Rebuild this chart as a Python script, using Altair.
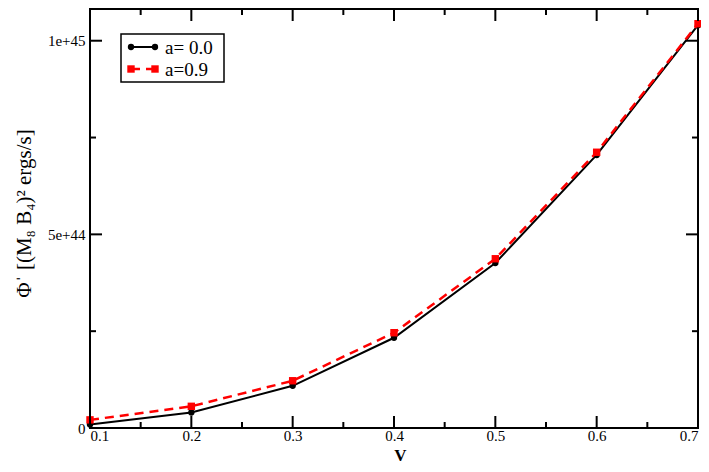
import altair as alt
import pandas as pd

# ---- data ----
V = [0.1, 0.2, 0.3, 0.4, 0.5, 0.6, 0.7]
phi_a00 = [0.009e45, 0.040e45, 0.109e45, 0.233e45, 0.426e45, 0.705e45, 1.040e45]
phi_a09 = [0.021e45, 0.056e45, 0.122e45, 0.246e45, 0.437e45, 0.712e45, 1.044e45]
series_names = ["a= 0.0", "a=0.9"]
series_colors = ["#000000", "#ff0000"]

x_major = [0.1, 0.2, 0.3, 0.4, 0.5, 0.6, 0.7]
x_minor = [0.15, 0.25, 0.35, 0.45, 0.55, 0.65]
y_major = [0, 5e44, 1e45]
y_major_labels = ["0", "5e+44", "1e+45"]
y_minor = [2.5e44, 7.5e44]

W, H = 608, 419
FONT = "'Liberation Serif', 'DejaVu Serif', serif"
MAJ, MIN = 12, 6

xs = alt.Scale(domain=[0.1, 0.7], nice=False, zero=False)
ys = alt.Scale(domain=[0, 1.0819e45], nice=False, zero=False)

label_expr = " : ".join(
    f"datum.value == {v!r} ? '{l}'" for v, l in zip(y_major, y_major_labels)
) + " : ''"

x_axis = alt.Axis(values=x_major, format=".1f", ticks=False, domain=False, grid=False,
                  labelFont=FONT, labelFontSize=15, labelColor="black", labelPadding=0,
                  title="V", titleFont=FONT, titleFontSize=17, titleFontWeight="bold",
                  titleColor="black", titleX=W / 2 + 6, titleY=32, titleAlign="center",
                  titleBaseline="alphabetic")
y_axis = alt.Axis(values=y_major, labelExpr=label_expr, ticks=False, domain=False, grid=False,
                  labelFont=FONT, labelFontSize=15, labelColor="black", labelPadding=5,
                  title="Φˈ [(M₈ B₄)² ergs/s]", titleFont=FONT, titleFontSize=21,
                  titleFontWeight="normal", titleColor="black",
                  titleX=-66, titleY=204, titleAngle=270, titleAlign="center",
                  titleBaseline="middle")

df0 = pd.DataFrame({"V": V, "phi": phi_a00})
df9 = pd.DataFrame({"V": V, "phi": phi_a09})

base0 = alt.Chart(df0)
line0 = base0.mark_line(color=series_colors[0], strokeWidth=2).encode(
    x=alt.X("V:Q", scale=xs, axis=x_axis), y=alt.Y("phi:Q", scale=ys, axis=y_axis))
pts0 = base0.mark_point(shape="circle", filled=True, color=series_colors[0], size=40, opacity=1).encode(
    x=alt.X("V:Q", scale=xs), y=alt.Y("phi:Q", scale=ys))

base9 = alt.Chart(df9)
line9 = base9.mark_line(color=series_colors[1], strokeWidth=2.5, strokeDash=[9, 6]).encode(
    x=alt.X("V:Q", scale=xs), y=alt.Y("phi:Q", scale=ys))
pts9 = base9.mark_point(shape="square", filled=True, color=series_colors[1], size=55, opacity=1).encode(
    x=alt.X("V:Q", scale=xs), y=alt.Y("phi:Q", scale=ys))

# ---- inward ticks on all four sides ----
def xticks(vals, length):
    d = pd.DataFrame({"t": vals})
    bottom = alt.Chart(d).mark_rule(color="black", strokeWidth=2).encode(
        x=alt.X("t:Q", scale=xs), y=alt.value(H), y2=alt.value(H - length))
    top = alt.Chart(d).mark_rule(color="black", strokeWidth=2).encode(
        x=alt.X("t:Q", scale=xs), y=alt.value(0), y2=alt.value(length))
    return [bottom, top]

def yticks(vals, length):
    d = pd.DataFrame({"t": vals})
    left = alt.Chart(d).mark_rule(color="black", strokeWidth=2).encode(
        y=alt.Y("t:Q", scale=ys), x=alt.value(0), x2=alt.value(length))
    right = alt.Chart(d).mark_rule(color="black", strokeWidth=2).encode(
        y=alt.Y("t:Q", scale=ys), x=alt.value(W), x2=alt.value(W - length))
    return [left, right]

ticks = xticks(x_major, MAJ) + xticks(x_minor, MIN) + yticks(y_major, MAJ) + yticks(y_minor, MIN)

# ---- legend box (drawn manually, grace style) ----
leg = pd.DataFrame({"name": series_names, "color": series_colors})
LX0, LX1, LY0, LY1 = 31, 134, 25, 73
box = alt.Chart(leg.iloc[:1]).mark_rect(fill="white", stroke="black", strokeWidth=1.5).encode(
    x=alt.value(LX0), x2=alt.value(LX1), y=alt.value(LY0), y2=alt.value(LY1))

legend_layers = [box]
rows = [(0, 38, "circle", 2, None, 40), (1, 60, "square", 2.5, [9, 6], 55)]
for i, yy, shape, sw, dash, sz in rows:
    d = leg.iloc[i:i + 1]
    kw = {"strokeDash": dash} if dash else {}
    legend_layers.append(alt.Chart(d).mark_rule(color=series_colors[i], strokeWidth=sw, **kw).encode(
        x=alt.value(41), x2=alt.value(65), y=alt.value(yy)))
    for xx in (41, 65):
        legend_layers.append(alt.Chart(d).mark_point(shape=shape, filled=True, color=series_colors[i],
                                                     size=sz, opacity=1).encode(
            x=alt.value(xx), y=alt.value(yy)))
    legend_layers.append(alt.Chart(d).mark_text(align="left", baseline="middle", font=FONT,
                                                fontSize=19, color="black").encode(
        x=alt.value(75), y=alt.value(yy + 1), text="name:N"))

chart = alt.layer(line0, pts0, line9, pts9, *ticks, *legend_layers).properties(
    width=W, height=H,
    autosize=alt.AutoSizeParams(type="none"),
    padding={"left": 82, "top": 1, "right": 3, "bottom": 36},
    background="white",
).configure_view(stroke="black", strokeWidth=2)

chart.save("out.html", embed_options={"renderer": "svg", "actions": False})
